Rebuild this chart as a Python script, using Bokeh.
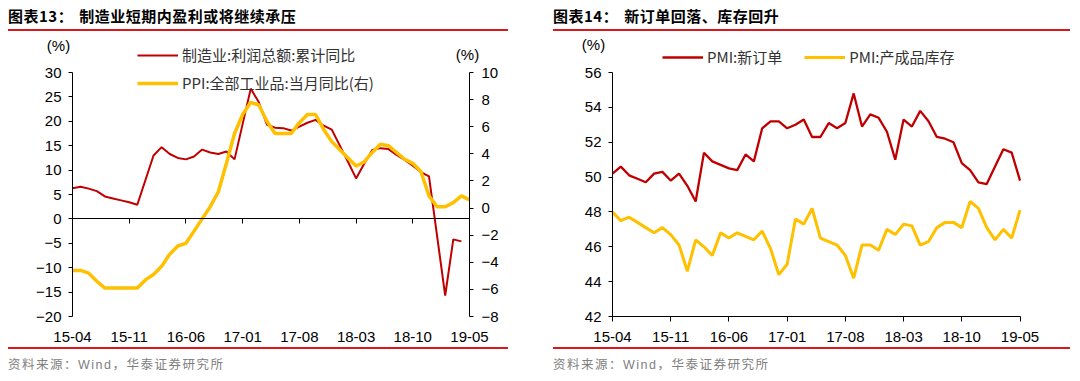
from bokeh.plotting import figure
from bokeh.models import (Range1d, LinearAxis, FixedTicker, ColumnDataSource,
                          Legend, LegendItem, Label, Div)
from bokeh.layouts import row, column
from bokeh.embed import file_html
from bokeh.resources import INLINE

# ---------------- data ----------------
tick_idx = [0, 7, 14, 21, 28, 35, 42, 49]
tick_labels = ["15-04", "15-11", "16-06", "17-01", "17-08", "18-03", "18-10", "19-05"]

# 制造业:利润总额:累计同比 (%), monthly 15-04 .. 19-05 (January not published)
profit = [6.3, 6.6, 6.2, 5.7, 4.6, 4.2, 3.8, 3.4, 2.9, None,
          13.0, 14.7, 13.3, 12.5, 12.2, 12.8, 14.2, 13.6, 13.3, 13.8,
          12.2, None, 26.7, 23.9, 19.3, 18.7, 18.6, 18.1, 18.9, 19.7,
          20.3, 19.1, 18.3, None, 11.7, 8.3, 11.3, 14.1, 14.5, 14.3,
          13.1, 12.1, 10.9, 9.6, 8.7, None, -15.7, -4.2, -4.6, None]

# PPI:全部工业品:当月同比 (%), right axis
ppi = [-4.6, -4.6, -4.8, -5.4, -5.9, -5.9, -5.9, -5.9, -5.9, -5.3,
       -4.9, -4.3, -3.4, -2.8, -2.6, -1.7, -0.8, 0.1, 1.2, 3.3,
       5.5, 6.9, 7.8, 7.6, 6.4, 5.5, 5.5, 5.5, 6.3, 6.9,
       6.9, 5.8, 4.9, 4.3, 3.7, 3.1, 3.4, 4.1, 4.7, 4.6,
       4.1, 3.6, 3.3, 2.7, 0.9, 0.1, 0.1, 0.4, 0.9, 0.6]

# PMI:新订单
pmi_new_orders = [50.2, 50.6, 50.1, 49.9, 49.7, 50.2, 50.3, 49.8, 50.2, 49.5,
                  48.6, 51.4, 50.9, 50.7, 50.5, 50.4, 51.3, 50.9, 52.8, 53.2,
                  53.2, 52.8, 53.0, 53.3, 52.3, 52.3, 53.1, 52.8, 53.1, 54.8,
                  52.9, 53.6, 53.4, 52.6, 51.0, 53.3, 52.9, 53.8, 53.2, 52.3,
                  52.2, 52.0, 50.8, 50.4, 49.7, 49.6, 50.6, 51.6, 51.4, 49.8]

# PMI:产成品库存
pmi_inventory = [48.0, 47.5, 47.7, 47.4, 47.1, 46.8, 47.1, 46.7, 46.1, 44.6,
                 46.4, 46.0, 45.5, 46.8, 46.5, 46.8, 46.6, 46.4, 46.9, 45.9,
                 44.4, 45.0, 47.6, 47.3, 48.2, 46.5, 46.3, 46.1, 45.5, 44.2,
                 46.1, 46.1, 45.8, 47.0, 46.7, 47.3, 47.2, 46.1, 46.3, 47.1,
                 47.4, 47.4, 47.1, 48.6, 48.2, 47.1, 46.4, 47.0, 46.5, 48.1]

left_ticks = [-20, -15, -10, -5, 0, 5, 10, 15, 20, 25, 30]
right_ticks = [-8, -6, -4, -2, 0, 2, 4, 6, 8, 10]
pmi_ticks = [42, 44, 46, 48, 50, 52, 54, 56]

title1 = "图表13："
title1_text = "制造业短期内盈利或将继续承压"
title2 = "图表14："
title2_text = "新订单回落、库存回升"
source_text = "资料来源：Wind，华泰证券研究所"

# ---------------- styles / layout (pixels, relative to each figure) ----------------
RED = "#C00000"
GOLD = "#FFC000"
RULE = "#D7191C"
TICK_FONT = "Liberation Sans"
CJK = "Noto Sans CJK SC"
FIG_H = 316
AX_TOP, AX_BOT = 41, 285          # pixel rows of the top / bottom tick
x = list(range(len(ppi)))


def rng(v0, p0, v1, p1, size, invert=False):
    """Range whose value v0 sits at pixel p0 and v1 at p1 in a frame of `size` px."""
    if invert:  # vertical: pixel measured from top
        p0, p1 = size - p0, size - p1
    s = (v1 - v0) / float(p1 - p0)
    return Range1d(v0 - p0 * s, v0 + (size - p0) * s)


def style_axis(ax, tick_out, standoff):
    ax.major_label_text_font = TICK_FONT
    ax.major_label_text_font_size = "15px"
    ax.major_label_text_color = "#000000"
    ax.axis_line_color = "#000000"
    ax.axis_line_width = 1
    ax.major_tick_line_color = "#000000"
    ax.major_tick_in = 0
    ax.major_tick_out = tick_out
    ax.minor_tick_line_color = None
    ax.major_label_standoff = standoff


def make_fig(w, xr, yr):
    p = figure(width=w, height=FIG_H, output_backend="svg", toolbar_location=None,
               x_range=xr, y_range=yr, x_axis_location=None, y_axis_location=None,
               min_border=0)
    p.min_border_left = p.min_border_right = p.min_border_top = p.min_border_bottom = 0
    p.outline_line_color = None
    p.xgrid.visible = False
    p.ygrid.visible = False
    p.background_fill_color = "white"
    p.border_fill_color = "white"
    return p


def legend(items, loc, orient, spacing):
    return Legend(items=items, location=loc, orientation=orient,
                  glyph_width=41, glyph_height=20, label_height=20, label_standoff=4,
                  spacing=spacing, padding=0, margin=0, border_line_color=None,
                  background_fill_alpha=0, label_text_font=CJK,
                  label_text_font_size="15px", label_text_color="#333333")


def pct_label(xv, yv, dx, dy):
    return Label(x=xv, y=yv, x_offset=dx, y_offset=dy, text="(%)",
                 text_align="center", text_baseline="middle",
                 text_font=TICK_FONT, text_font_size="15px", text_color="#000000")


# ---------------- left chart (figure spans page x 8..553) ----------------
W1 = 545
p1 = make_fig(W1, rng(0, 64, 49, 461, W1),
              rng(-20, AX_BOT, 30, AX_TOP, FIG_H, invert=True))
p1.extra_y_ranges = {"ppi": rng(-8, AX_BOT, 10, AX_TOP, FIG_H, invert=True)}

ya = LinearAxis(fixed_location=0, ticker=FixedTicker(ticks=left_ticks),
                bounds=(left_ticks[0], left_ticks[-1]))
style_axis(ya, 4, 7)
p1.add_layout(ya, "left")

ra = LinearAxis(y_range_name="ppi", fixed_location=49, ticker=FixedTicker(ticks=right_ticks),
                bounds=(right_ticks[0], right_ticks[-1]))
style_axis(ra, 4, 8)
p1.add_layout(ra, "right")

xa = LinearAxis(fixed_location=left_ticks[0], ticker=FixedTicker(ticks=tick_idx),
                bounds=(0, 49))
style_axis(xa, 0, 15)
xa.axis_line_color = None
xa.major_tick_line_color = None
xa.major_label_overrides = dict(zip(tick_idx, tick_labels))
p1.add_layout(xa, "below")

zero_axis = LinearAxis(fixed_location=0, ticker=FixedTicker(ticks=tick_idx), bounds=(0, 49))
style_axis(zero_axis, 5, 0)
zero_axis.major_label_text_color = None
p1.add_layout(zero_axis, "below")

px = [i for i, v in enumerate(profit) if v is not None]
py = [v for v in profit if v is not None]
r_profit = p1.line("x", "y", source=ColumnDataSource(dict(x=px, y=py)),
                   line_color=RED, line_width=2)
r_ppi = p1.line("x", "y", source=ColumnDataSource(dict(x=x, y=ppi)),
                y_range_name="ppi", line_color=GOLD, line_width=3.5)

p1.add_layout(legend([LegendItem(label="制造业:利润总额:累计同比", renderers=[r_profit]),
                      LegendItem(label="PPI:全部工业品:当月同比(右)", renderers=[r_ppi])],
                     (129, 254), "vertical", 7))
p1.add_layout(pct_label(0, 30, -14, 27))
p1.add_layout(pct_label(49, 30, -2, 18))

# ---------------- right chart (figure spans page x 553..1072) ----------------
W2 = 519
p2 = make_fig(W2, rng(0, 59, 49, 466.5, W2),
              rng(42, AX_BOT, 56, AX_TOP, FIG_H, invert=True))

yb = LinearAxis(fixed_location=0, ticker=FixedTicker(ticks=pmi_ticks),
                bounds=(pmi_ticks[0], pmi_ticks[-1]))
style_axis(yb, 4, 7)
p2.add_layout(yb, "left")

xb = LinearAxis(fixed_location=pmi_ticks[0], ticker=FixedTicker(ticks=tick_idx), bounds=(0, 49))
style_axis(xb, 5, 10)
xb.major_label_overrides = dict(zip(tick_idx, tick_labels))
p2.add_layout(xb, "below")

r_new = p2.line("x", "y", source=ColumnDataSource(dict(x=x, y=pmi_new_orders)),
                line_color=RED, line_width=2.3)
r_inv = p2.line("x", "y", source=ColumnDataSource(dict(x=x, y=pmi_inventory)),
                line_color=GOLD, line_width=3)

p2.add_layout(legend([LegendItem(label="PMI:新订单", renderers=[r_new]),
                      LegendItem(label="PMI:产成品库存", renderers=[r_inv])],
                     (109, 280), "horizontal", 22))
p2.add_layout(pct_label(0, 56, -19, 28))


# ---------------- titles / sources ----------------
def title_div(num, text, w):
    html = ('<div style="height:21px;line-height:15px;font-family:\'%s\';'
            'font-weight:bold;font-size:15px;letter-spacing:0.5px;color:#000;white-space:nowrap">'
            '%s<span style="margin-left:6px">%s</span></div>'
            '<div style="height:2px;background:%s;width:%dpx"></div>') % (CJK, num, text, RULE, w)
    return Div(text=html, width=w, height=23, margin=0)


def source_div(w):
    html = ('<div style="height:1.5px;background:%s;width:%dpx"></div>'
            '<div style="margin-top:6px;line-height:20px;font-size:12.5px;color:#808080;'
            'letter-spacing:1.5px;font-family:\'Liberation Sans\',\'%s\';white-space:nowrap">%s</div>'
            ) % (RULE, w, CJK, source_text)
    return Div(text=html, width=w, height=26, margin=0)


left_col = column(title_div(title1, title1_text, 500), p1, source_div(500), spacing=0)
right_col = column(title_div(title2, title2_text, 517), p2, source_div(517), spacing=0)
layout = row(left_col, right_col, spacing=0, margin=(8, 0, 0, 8))

open("out.html", "w").write(file_html(layout, INLINE))
